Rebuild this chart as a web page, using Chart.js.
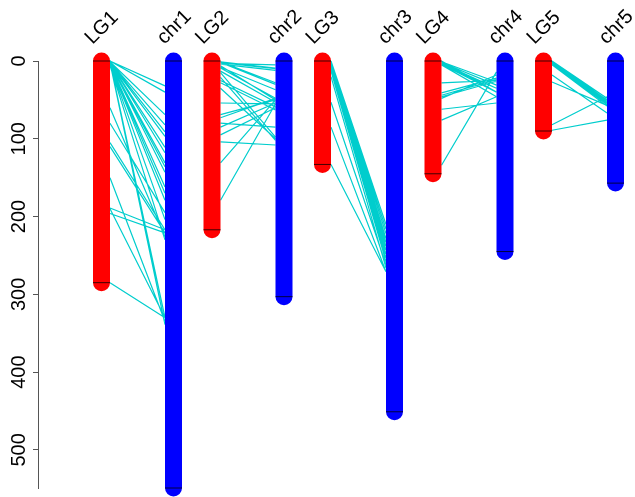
<!DOCTYPE html>
<html>
<head>
<meta charset="utf-8">
<script src="https://cdn.jsdelivr.net/npm/chart.js@4"></script>
<style>
  body { margin: 0; background: #fff; }
  canvas { display: block; }
</style>
</head>
<body>
<canvas id="myChart" width="635" height="497"></canvas>
<script>
// linkage groups and chromosomes
const lgNames = ["LG1", "LG2", "LG3", "LG4", "LG5"];
const chrNames = ["chr1", "chr2", "chr3", "chr4", "chr5"];
const lgLengths = [285, 217, 133, 145, 90];
const chrLengths = [549, 303, 451, 245, 157];
const yTicks = [0, 100, 200, 300, 400, 500];

// links: [position on LG, position on chr]
const links1 = [[0, 32], [0, 40], [1, 69], [1, 82], [1, 91], [2, 97], [2, 111], [2, 118], [3, 131], [3, 136],
  [3, 143], [4, 162], [4, 170], [5, 179], [5, 204], [6, 230], [1, 330], [2, 339], [80, 195], [105, 217],
  [110, 221], [150, 335], [189, 217], [196, 221], [190, 330], [285, 330], [60, 226]];
const links2 = [[1, 9], [2, 10], [4, 12], [1, 28], [8, 37], [9, 48], [13, 53], [15, 98], [21, 102], [25, 59],
  [28, 63], [35, 100], [54, 55], [69, 50], [73, 48], [80, 85], [85, 54], [95, 60], [104, 108], [131, 50],
  [179, 55], [3, 5], [6, 50], [2, 30]];
const links3 = [[0, 210], [1, 216], [2, 222], [3, 228], [4, 233], [5, 238], [7, 243], [9, 248],
  [11, 253], [13, 258], [53, 262], [85, 271], [133, 271], [20, 266]];
const links4 = [[1, 27], [2, 31], [3, 35], [4, 40], [5, 46], [28, 25], [41, 22], [44, 24], [46, 26], [48, 18],
  [62, 54], [76, 46], [134, 14], [0, 40], [5, 35]];
const links5 = [[0, 48], [1, 50], [2, 52], [3, 54], [4, 56], [5, 58], [18, 67], [27, 57], [82, 46], [89, 76]];
const allLinks = [links1, links2, links3, links4, links5];

const barW = 17;
const lgX = i => 101.5 + 110.5 * i;
const chrX = i => lgX(i) + 72;

const datasets = [];

// bars
lgNames.forEach((n, i) => {
  datasets.push({ data: [{ x: lgX(i), y: 0 }, { x: lgX(i), y: lgLengths[i] }],
    borderColor: "#ff0000", borderWidth: barW, borderCapStyle: "round", order: 1 });
  datasets.push({ data: [{ x: chrX(i), y: 0 }, { x: chrX(i), y: chrLengths[i] }],
    borderColor: "#0000ff", borderWidth: barW, borderCapStyle: "round", order: 1 });
});

// end marks
const ends = [];
lgNames.forEach((n, i) => {
  [[lgX(i), lgLengths[i]], [chrX(i), chrLengths[i]]].forEach(([cx, len]) => {
    ends.push({ x: cx - barW / 2, y: 0 }, { x: cx + barW / 2, y: 0 }, { x: cx, y: null });
    ends.push({ x: cx - barW / 2, y: len }, { x: cx + barW / 2, y: len }, { x: cx, y: null });
  });
});
datasets.push({ data: ends, borderColor: "rgba(0,0,0,0.75)", borderWidth: 1, order: 0 });

// links
allLinks.forEach((lk, i) => {
  const pts = [];
  lk.forEach(([a, b]) => {
    pts.push({ x: lgX(i) + barW / 2, y: a }, { x: chrX(i) - barW / 2, y: b }, { x: chrX(i), y: null });
  });
  datasets.push({ data: pts, borderColor: "#00cdcd", borderWidth: 1.2, order: 2 });
});

datasets.forEach(d => { d.pointRadius = 0; d.clip = false; d.spanGaps = false; d.tension = 0; });

const labelFont = '20px "Liberation Sans", Arial, sans-serif';

const textPlugin = {
  id: "texts",
  afterDraw(chart) {
    const ctx = chart.ctx;
    const xs = chart.scales.x;
    const ys = chart.scales.y;
    ctx.save();
    ctx.fillStyle = "#000";
    ctx.font = labelFont;
    // y tick labels, vertical
    yTicks.forEach(v => {
      ctx.save();
      ctx.translate(19, ys.getPixelForValue(v));
      ctx.rotate(-Math.PI / 2);
      ctx.textAlign = "center";
      ctx.textBaseline = "middle";
      ctx.fillText(String(v), 0, 0);
      ctx.restore();
    });
    // top names at 45 degrees
    lgNames.forEach((n, i) => {
      [[lgX(i), n], [chrX(i), chrNames[i]]].forEach(([cx, txt]) => {
        ctx.save();
        ctx.translate(xs.getPixelForValue(cx) - 9, 45);
        ctx.rotate(-Math.PI / 4);
        ctx.textAlign = "left";
        ctx.textBaseline = "alphabetic";
        ctx.fillText(txt, 0, 0);
        ctx.restore();
      });
    });
    ctx.restore();
  }
};

const ctx = document.getElementById("myChart").getContext("2d");
const myChart = new Chart(ctx, {
  type: "line",
  data: { datasets: datasets },
  options: {
    responsive: false,
    animation: false,
    layout: { padding: { top: 61, bottom: 9, left: 0, right: 0 } },
    plugins: { legend: { display: false }, tooltip: { enabled: false } },
    scales: {
      x: { type: "linear", min: 38, max: 635, display: false },
      y: {
        type: "linear",
        reverse: true,
        min: 0,
        max: 549,
        afterFit(scale) { scale.width = 38; },
        afterBuildTicks(scale) { scale.ticks = yTicks.map(v => ({ value: v })); },
        ticks: { display: false },
        grid: { drawOnChartArea: false, drawTicks: true, tickLength: 5, color: "#555" },
        border: { display: true, color: "#555" }
      }
    }
  },
  plugins: [textPlugin]
});
</script>
</body>
</html>
